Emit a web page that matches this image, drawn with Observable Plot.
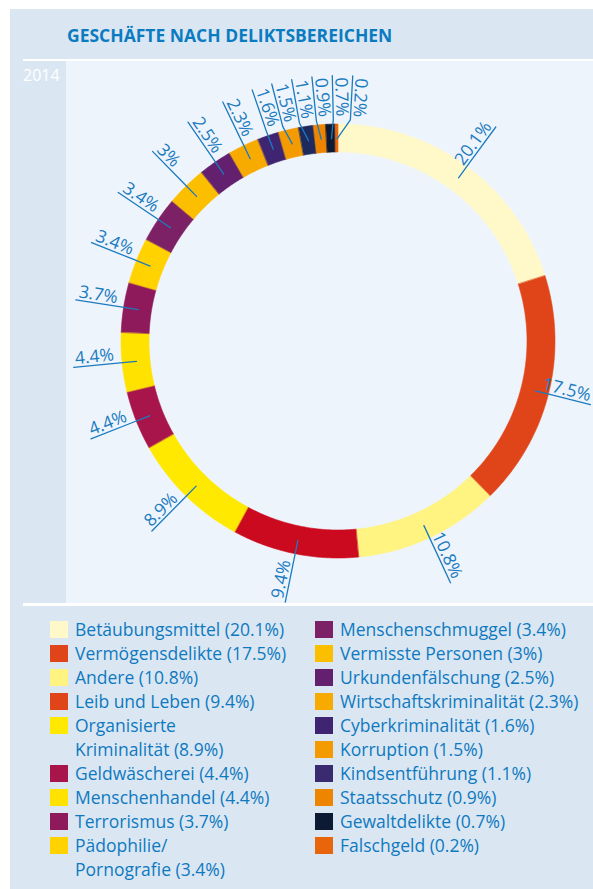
<!DOCTYPE html>
<html>
<head>
<meta charset="utf-8">
<script src="https://cdn.jsdelivr.net/npm/d3@7"></script>
<script src="https://cdn.jsdelivr.net/npm/@observablehq/plot@0.6"></script>
<style>
  html, body { margin: 0; padding: 0; background: #ffffff; }
  body { width: 593px; height: 889px; position: relative; overflow: hidden; font-family: "Open Sans", "Noto Sans", sans-serif; }
  #card { position: absolute; left: 10px; top: 9px; width: 583px; height: 880px; background: #dae7f3; }
  #title { position: absolute; left: 57px; top: 17px; font-size: 17.5px; line-height: 18px; font-weight: 700; color: #0b7bc1; white-space: nowrap; }
  .rule { position: absolute; left: 13px; right: 0; background: #ffffff; }
  #rule1 { top: 50px; height: 2px; }
  #rule2 { top: 594px; height: 3px; }
  #year { position: absolute; left: 13px; top: 58px; font-size: 16px; line-height: 16px; color: #ffffff; }
  #panel { position: absolute; left: 56px; top: 52px; width: 527px; height: 542px; background: #eef4fb; }
  #panel svg { display: block; }
  .lg-sw { position: absolute; width: 18px; height: 17px; }
  .lg-tx { position: absolute; font-size: 17.5px; line-height: 24px; color: #0f79bf; white-space: pre; }
</style>
</head>
<body>
<div id="card">
  <div id="title">GESCHÄFTE NACH DELIKTSBEREICHEN</div>
  <div class="rule" id="rule1"></div>
  <div id="year">2014</div>
  <div id="panel"></div>
  <div class="rule" id="rule2"></div>
  <div id="legend"></div>
</div>
<script>
// ---- data ----
const categories = [
  "Betäubungsmittel", "Vermögensdelikte", "Andere", "Leib und Leben",
  "Organisierte\nKriminalität", "Geldwäscherei", "Menschenhandel", "Terrorismus",
  "Pädophilie/\nPornografie", "Menschenschmuggel", "Vermisste Personen",
  "Urkundenfälschung", "Wirtschaftskriminalität", "Cyberkriminalität",
  "Korruption", "Kindsentführung", "Staatsschutz", "Gewaltdelikte", "Falschgeld"
];
const shares = [20.1, 17.5, 10.8, 9.4, 8.9, 4.4, 4.4, 3.7, 3.4, 3.4, 3, 2.5, 2.3, 1.6, 1.5, 1.1, 0.9, 0.7, 0.2];
const sliceColors = [
  "#fff9c9", "#e0451a", "#fff381", "#cc0a1f", "#ffe900", "#a8154a", "#ffe200", "#8f1a5b",
  "#ffd200", "#7d2166", "#fcbf00", "#62206e", "#f7ab00", "#3f2571", "#f39b00", "#1e2a5e",
  "#ee8500", "#0d1a33", "#e8650c"
];
const legendColors = [
  "#fff9c9", "#e0451a", "#fff381", "#e0451a", "#ffe900", "#a8154a", "#ffe200", "#8f1a5b",
  "#ffd200", "#7d2166", "#fcbf00", "#62206e", "#f7ab00", "#3f2571", "#f39b00", "#3a2a70",
  "#ee8500", "#0d1a33", "#e8650c"
];
const legendSplit = 9; // first 9 entries in the left column

// ---- geometry constants ----
const R_OUT = 217, R_IN = 189, R_L0 = 203, R_BEND = 222, R_TXT = 264;
const SEP = 4.4, GAP = 3, X_MAX = 250;
const fmt = v => String(v).replace(/\.0$/, "") + "%";
const rad = d => d * Math.PI / 180;
const pt = (r, deg) => [r * Math.sin(rad(deg)), -r * Math.cos(rad(deg))];

const total = d3.sum(shares);
let acc = 0;
const slices = shares.map((v, i) => {
  const a0 = acc / total * 360; acc += v; const a1 = acc / total * 360;
  return {i, name: categories[i], a0, a1, mid: (a0 + a1) / 2};
});

// arc polygons (annular sectors)
const arcRows = [];
for (const s of slices) {
  const n = Math.max(2, Math.ceil((s.a1 - s.a0) / 0.5));
  for (let k = 0; k <= n; k++) {
    const a = s.a0 + (s.a1 - s.a0) * k / n;
    const [xo, yo] = pt(R_OUT, a), [xi, yi] = pt(R_IN, a);
    arcRows.push({name: s.name, color: sliceColors[s.i], xo, yo, xi, yi});
  }
}

// label angles, spread apart where crowded
const la = slices.map(s => s.mid);
for (let it = 0; it < 400; it++) {
  for (let i = 1; i < la.length; i++) {
    const d = la[i] - la[i - 1];
    if (d < SEP) { const sh = (SEP - d) / 2; la[i - 1] -= sh; la[i] += sh; }
  }
}

const leaderRows = [];
const labelRows = [];
slices.forEach((s, i) => {
  const a = la[i];
  const sn = Math.sin(rad(a)), c = Math.cos(rad(a));
  // keep the label's outer end inside the panel
  const rT = sn > 0 ? Math.min(R_TXT, X_MAX / sn) : R_TXT;
  for (const p of [pt(R_L0, s.mid), pt(R_BEND, a), pt(rT + 2, a)]) leaderRows.push({name: s.name, x: p[0], y: p[1]});
  const right = a < 180;
  const up = right ? [-c, -sn] : [c, sn];
  const [bx, by] = pt(rT, a);
  labelRows.push({
    side: right ? "R" : "L",
    text: fmt(shares[i]),
    x: bx + up[0] * GAP, y: by + up[1] * GAP,
    rotate: right ? a - 90 : a - 270
  });
});

const textOpts = {x: "x", y: "y", text: "text", rotate: "rotate", lineAnchor: "bottom",
  fontSize: 17.5, fill: "#1a7bc0", fontFamily: "Open Sans"};

const chart = Plot.plot({
  width: 527, height: 542, margin: 0,
  x: {domain: [-272, 255], range: [0, 527], axis: null},
  y: {domain: [-280, 262], range: [0, 542], axis: null},
  color: {type: "identity"},
  style: {background: "transparent", overflow: "visible"},
  marks: [
    Plot.area(arcRows, {x1: "xo", y1: "yo", x2: "xi", y2: "yi", z: "name", fill: "color", stroke: "color", strokeWidth: 0.6}),
    Plot.line(leaderRows, {x: "x", y: "y", z: "name", stroke: "#1b7bc0", strokeWidth: 1.3}),
    Plot.text(labelRows.filter(d => d.side === "R"), {...textOpts, textAnchor: "end"}),
    Plot.text(labelRows.filter(d => d.side === "L"), {...textOpts, textAnchor: "start"})
  ]
});
document.getElementById("panel").appendChild(chart);

// ---- legend ----
const legend = document.getElementById("legend");
const LG_TOP = 608, ROW = 24;
const cols = [{sw: 40, tx: 65}, {sw: 305, tx: 330}];
let rowIdx = [0, 0];
categories.forEach((name, i) => {
  const c = i < legendSplit ? 0 : 1;
  const top = LG_TOP + rowIdx[c] * ROW;
  const sw = document.createElement("div");
  sw.className = "lg-sw";
  sw.style.left = cols[c].sw + "px";
  sw.style.top = (top + 4) + "px";
  sw.style.background = legendColors[i];
  legend.appendChild(sw);
  const tx = document.createElement("div");
  tx.className = "lg-tx";
  tx.style.left = cols[c].tx + "px";
  tx.style.top = top + "px";
  tx.textContent = name + " (" + fmt(shares[i]) + ")";
  legend.appendChild(tx);
  rowIdx[c] += name.split("\n").length;
});
</script>
</body>
</html>
